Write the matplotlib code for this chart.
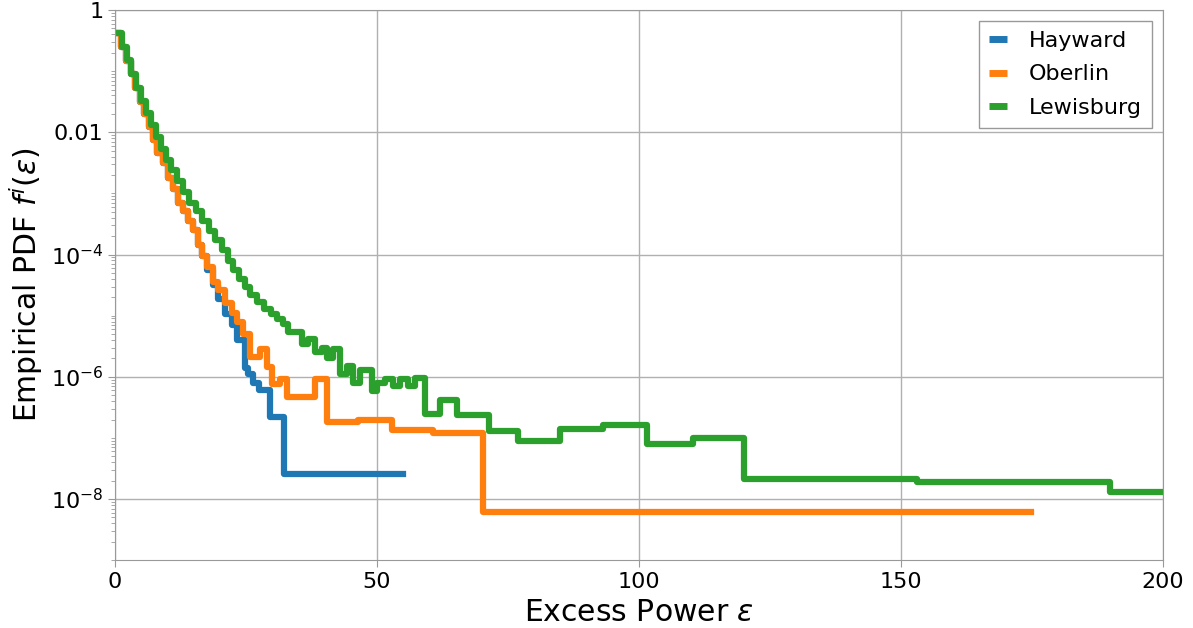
import numpy as np
import matplotlib
matplotlib.use("Agg")
import matplotlib.pyplot as plt
from matplotlib.ticker import FixedLocator, FixedFormatter, LogLocator, NullFormatter

# Empirical PDF per site: left bin edges (+ final right edge) and step heights
hayward_x = [0.3, 1.2, 2.1, 3.0, 3.9, 4.8, 5.6, 6.5, 7.3, 8.0, 9.2, 10.1, 11.1, 12.0,
             13.0, 13.9, 14.9, 15.8, 16.6, 17.6, 18.7, 19.7, 21.0, 22.3, 23.3, 24.8,
             25.4, 26.4, 27.5, 29.6, 32.3, 55.0]
hayward_y = [0.427, 0.245, 0.148, 0.0891, 0.0525, 0.0316, 0.0200, 0.0120, 7.4e-3, 4.5e-3,
             3.2e-3, 1.8e-3, 1.2e-3, 6.9e-4, 5.2e-4, 3.6e-4, 2.5e-4, 1.45e-4, 9.5e-5,
             5.6e-5, 3.2e-5, 1.9e-5, 1.07e-5, 7.1e-6, 4.0e-6, 1.4e-6, 1.1e-6, 7.9e-7,
             6.0e-7, 2.2e-7, 2.6e-8]

oberlin_x = [0.3, 1.2, 2.1, 3.0, 3.9, 4.8, 5.6, 6.5, 7.3, 8.0, 9.2, 10.1, 11.1, 12.0,
             13.0, 13.9, 14.9, 15.8, 16.6, 17.6, 18.7, 19.7, 21.0, 22.3, 23.3, 24.4,
             25.8, 27.7, 29.0, 30.0, 31.5, 32.8, 38.2, 40.5, 46.4, 52.9, 60.7, 70.2, 174.8]
oberlin_y = [0.427, 0.245, 0.148, 0.0891, 0.0525, 0.0316, 0.0200, 0.0120, 7.4e-3, 4.5e-3,
             3.2e-3, 1.8e-3, 1.2e-3, 6.9e-4, 5.2e-4, 3.6e-4, 2.5e-4, 1.45e-4, 9.5e-5,
             6.2e-5, 3.5e-5, 2.6e-5, 1.6e-5, 1.1e-5, 7.8e-6, 5.0e-6, 2.1e-6, 2.9e-6,
             1.45e-6, 7.6e-7, 9.3e-7, 4.6e-7, 9.1e-7, 1.8e-7, 2.0e-7, 1.35e-7, 1.2e-7,
             6.2e-9]

lewisburg_x = [0.3, 1.3, 2.2, 3.1, 4.0, 5.0, 5.9, 6.8, 7.8, 8.7, 9.7, 10.7, 11.8, 13.0,
               14.2, 15.4, 16.6, 17.9, 19.1, 20.4, 21.6, 22.6, 23.6, 24.8, 25.8, 27.0,
               28.4, 29.8, 31.0, 32.1, 33.0, 35.7, 36.8, 38.2, 39.5, 40.5, 41.6, 42.9,
               44.3, 45.4, 46.8, 49.0, 50.0, 51.5, 53.1, 54.4, 55.9, 57.3, 59.2, 62.0,
               65.3, 71.4, 76.9, 84.9, 93.1, 101.5, 110.3, 120.0, 153.1, 189.9, 205.0]
lewisburg_y = [0.427, 0.251, 0.151, 0.0891, 0.0537, 0.0331, 0.0209, 0.0132, 8.3e-3,
               5.4e-3, 3.5e-3, 2.4e-3, 1.6e-3, 1.05e-3, 7.1e-4, 5.1e-4, 3.5e-4, 2.45e-4,
               1.7e-4, 1.2e-4, 7.9e-5, 5.6e-5, 4.0e-5, 2.9e-5, 2.2e-5, 1.7e-5, 1.3e-5,
               1.07e-5, 8.9e-6, 7.2e-6, 5.4e-6, 3.5e-6, 4.2e-6, 2.5e-6, 3.0e-6, 2.0e-6,
               2.9e-6, 1.1e-6, 1.5e-6, 7.9e-7, 1.3e-6, 5.9e-7, 7.9e-7, 9.3e-7, 7.1e-7,
               9.3e-7, 7.1e-7, 9.5e-7, 2.5e-7, 4.2e-7, 2.4e-7, 1.3e-7, 8.9e-8, 1.4e-7,
               1.6e-7, 7.9e-8, 1.0e-7, 2.1e-8, 1.9e-8, 1.3e-8]

series = [("Hayward", hayward_x, hayward_y, "tab:blue"),
          ("Oberlin", oberlin_x, oberlin_y, "tab:orange"),
          ("Lewisburg", lewisburg_x, lewisburg_y, "tab:green")]

ytick_vals = [1, 1e-2, 1e-4, 1e-6, 1e-8]
ytick_labels = ["1", "0.01", r"$10^{-4}$", r"$10^{-6}$", r"$10^{-8}$"]
xtick_vals = [0, 50, 100, 150, 200]

fig = plt.figure(figsize=(11.93, 6.28), dpi=100)
ax = fig.add_axes([0.0964, 0.108, 0.8786, 0.876])

for nombre, xs, ys, color in series:
    ax.plot(xs, np.append(ys, ys[-1]), drawstyle="steps-post", lw=4.5,
            color=color, label=nombre)

ax.set_yscale("log")
ax.set_ylim(1e-9, 1)
ax.set_xlim(0, 200)
ax.yaxis.set_major_locator(FixedLocator(ytick_vals))
ax.yaxis.set_major_formatter(FixedFormatter(ytick_labels))
ax.yaxis.set_minor_locator(LogLocator(base=10, subs=np.arange(1, 10), numticks=30))
ax.yaxis.set_minor_formatter(NullFormatter())
ax.set_xticks(xtick_vals)

ax.grid(True, which="major", color="#b0b0b0", lw=1)
for s in ax.spines.values():
    s.set_color("#999999")
ax.tick_params(which="both", colors="#999999", labelcolor="black", labelsize=16)
ax.tick_params(which="major", length=5)
ax.tick_params(which="minor", length=3)

ax.set_xlabel(r"Excess Power $\varepsilon$", fontsize=21.5)
ax.set_ylabel(r"Empirical PDF $f^i(\varepsilon)$", fontsize=21.5)

leg = ax.legend(loc="upper right", fontsize=16, handlelength=0.8, handletextpad=1.0,
                borderpad=0.45, labelspacing=0.6, fancybox=False,
                framealpha=1, edgecolor="#999999")
for linea in leg.get_lines():
    linea.set_solid_capstyle("butt")
    linea.set_linewidth(5)

fig.savefig("out.png", dpi=100)
